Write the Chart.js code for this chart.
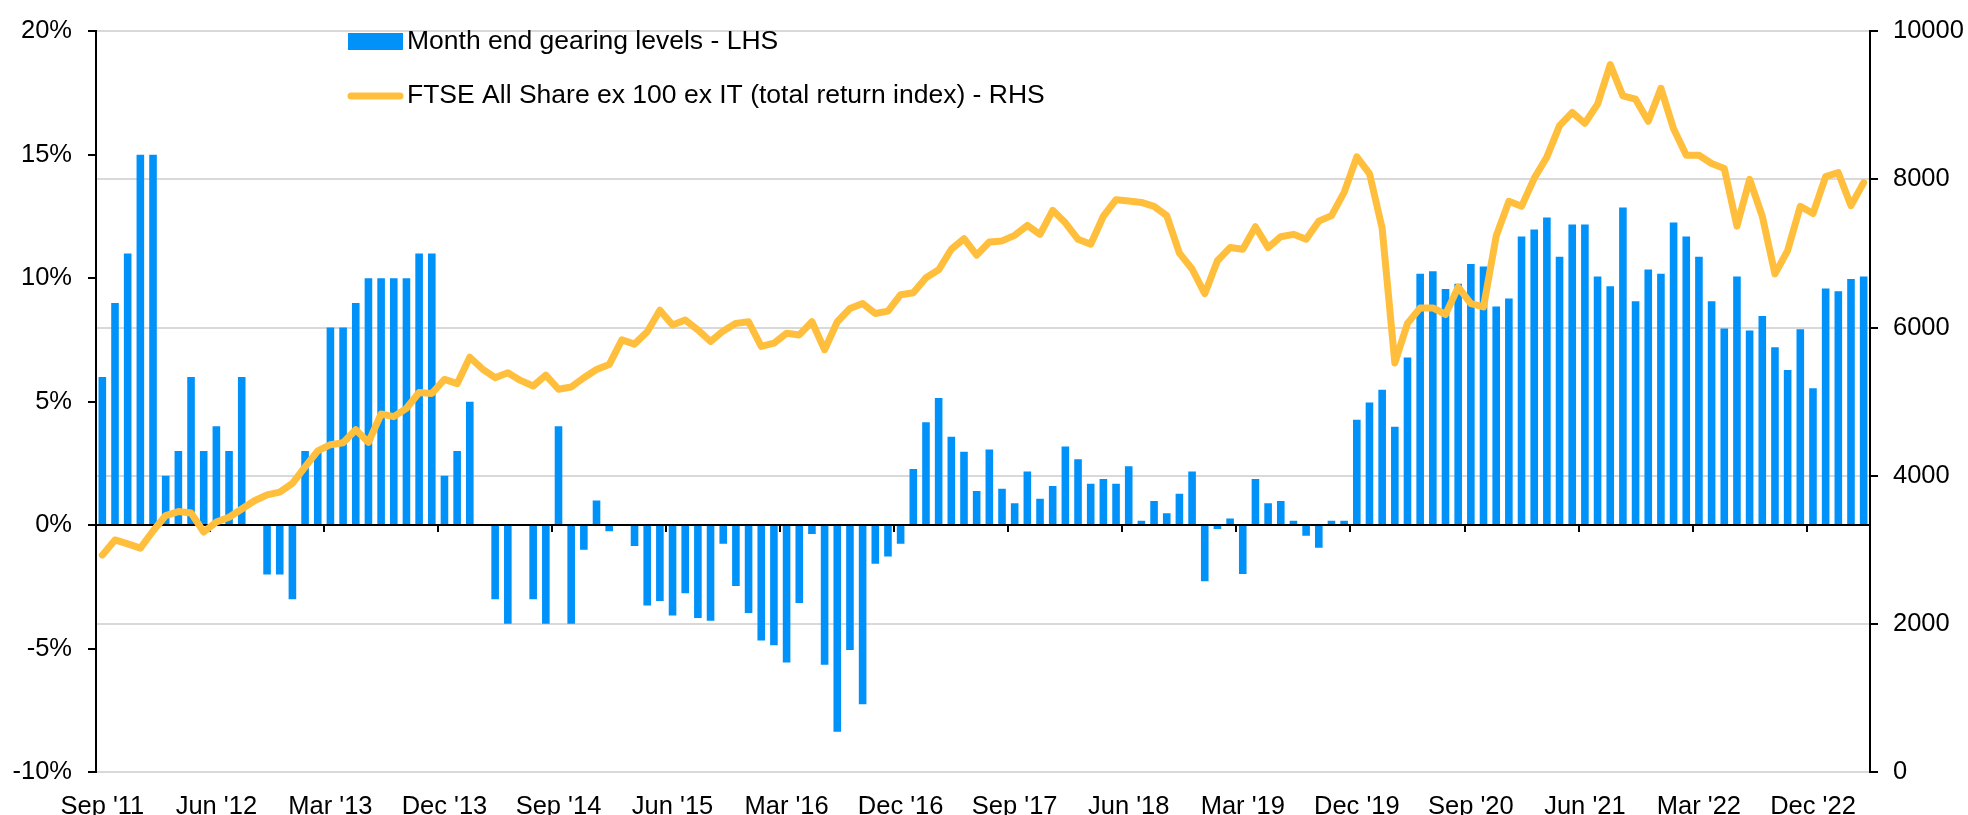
<!DOCTYPE html>
<html>
<head>
<meta charset="utf-8">
<title>Month end gearing levels</title>
<script src="https://cdn.jsdelivr.net/npm/chart.js@4.4.0/dist/chart.umd.min.js"></script>
<style>
  html, body { margin: 0; padding: 0; background: #fff; }
  #wrap { position: relative; width: 1968px; height: 815px; }
</style>
</head>
<body>
<div id="wrap"><canvas id="chart"></canvas></div>
<script>
// Month categories, Sep '11 to Apr '23
const monthNames = ['Jan', 'Feb', 'Mar', 'Apr', 'May', 'Jun', 'Jul', 'Aug', 'Sep', 'Oct', 'Nov', 'Dec'];
const months = [];
for (let i = 0; i < 140; i++) {
    const m = (8 + i) % 12;
    const y = 11 + Math.floor((8 + i) / 12);
    months.push(monthNames[m] + " '" + y);
}
const labelEvery = 9;

// Month end gearing (%), LHS
const gearing = [
    6, 9, 11, 15, 15, 2, 3, 6, 3, 4, 3, 6,
    0, -2, -2, -3, 3, 3, 8, 8, 9, 10, 10, 10,
    10, 11, 11, 2, 3, 5, 0, -3, -4, 0, -3, -4,
    4, -4, -1, 1, -0.25, 0, -0.85, -3.26, -3.07, -3.66, -2.76, -3.76,
    -3.87, -0.76, -2.47, -3.56, -4.67, -4.87, -5.57, -3.16, -0.36, -5.66, -8.37, -5.06,
    -7.26, -1.57, -1.27, -0.76, 2.27, 4.17, 5.15, 3.58, 2.97, 1.38, 3.06, 1.47,
    0.88, 2.17, 1.07, 1.58, 3.18, 2.67, 1.67, 1.87, 1.67, 2.38, 0.18, 0.98,
    0.48, 1.27, 2.17, -2.27, -0.16, 0.27, -1.98, 1.87, 0.88, 0.98, 0.18, -0.43,
    -0.92, 0.18, 0.18, 4.27, 4.97, 5.48, 3.98, 6.79, 10.18, 10.28, 9.56, 9.78,
    10.58, 10.47, 8.85, 9.18, 11.69, 11.97, 12.46, 10.87, 12.17, 12.17, 10.07, 9.67,
    12.86, 9.07, 10.35, 10.18, 12.26, 11.69, 10.87, 9.07, 7.96, 10.07, 7.88, 8.47,
    7.2, 6.28, 7.93, 5.54, 9.58, 9.47, 9.97, 10.07
];

// FTSE All Share ex 100 ex IT total return index, RHS
const ftse = [
    2928, 3133, 3080, 3022, 3254, 3462, 3516, 3498, 3240, 3374, 3440, 3551,
    3662, 3742, 3778, 3898, 4121, 4335, 4419, 4446, 4620, 4450, 4833, 4797,
    4910, 5123, 5110, 5300, 5243, 5600, 5440, 5323, 5390, 5287, 5211, 5358,
    5167, 5198, 5323, 5434, 5501, 5834, 5777, 5945, 6235, 6035, 6101, 5968,
    5812, 5955, 6057, 6079, 5745, 5790, 5924, 5901, 6079, 5701, 6079, 6257,
    6324, 6191, 6222, 6444, 6470, 6673, 6780, 7058, 7200, 6978, 7156, 7170,
    7245, 7379, 7259, 7583, 7414, 7192, 7125, 7503, 7726, 7708, 7690, 7637,
    7512, 7005, 6791, 6458, 6903, 7080, 7058, 7361, 7080, 7227, 7259, 7192,
    7437, 7512, 7825, 8305, 8080, 7340, 5523, 6057, 6266, 6266, 6177, 6546,
    6324, 6280, 7236, 7704, 7637, 8015, 8304, 8727, 8905, 8758, 9016, 9550,
    9127, 9083, 8785, 9230, 8683, 8327, 8327, 8215, 8149, 7370, 8002, 7503,
    6725, 7040, 7637, 7539, 8037, 8091, 7646, 7957
];

const barColor = '#0092f9';
const lineColor = '#ffbf3c';
const fontFamily = "'Liberation Sans', Arial, sans-serif";

Chart.defaults.font.family = fontFamily;
Chart.defaults.font.size = 25.5;
Chart.defaults.color = '#000';

// Zero line and x tick marks, drawn after the bars but under the index line
const zeroLine = {
    id: 'zeroLine',
    afterDatasetDraw(chart, args) {
        if (args.index !== 0) return;
        const { ctx, chartArea, scales } = chart;
        const y0 = scales.y.getPixelForValue(0);
        const step = scales.x.getPixelForValue(1) - scales.x.getPixelForValue(0);
        ctx.save();
        ctx.strokeStyle = '#000';
        ctx.lineWidth = 2;
        ctx.beginPath();
        ctx.moveTo(chartArea.left, y0);
        ctx.lineTo(chartArea.right, y0);
        for (let i = 0; i < months.length; i += labelEvery) {
            const px = Math.round(scales.x.getPixelForValue(i) - step / 2);
            ctx.moveTo(px, y0);
            ctx.lineTo(px, y0 + 7);
        }
        ctx.stroke();
        ctx.restore();
    }
};

// Legend in the top left of the plot
const legendBox = {
    id: 'legendBox',
    afterDraw(chart) {
        const ctx = chart.ctx;
        const sets = chart.data.datasets;
        ctx.save();
        ctx.font = '26.5px ' + fontFamily;
        ctx.textBaseline = 'middle';
        ctx.fillStyle = sets[0].backgroundColor;
        ctx.fillRect(348, 33, 55, 17);
        ctx.strokeStyle = sets[1].borderColor;
        ctx.lineWidth = 7;
        ctx.lineCap = 'round';
        ctx.beginPath();
        ctx.moveTo(351, 96);
        ctx.lineTo(400, 96);
        ctx.stroke();
        ctx.fillStyle = '#000';
        ctx.fillText(sets[0].label, 407, 42);
        ctx.fillText(sets[1].label, 407, 96);
        ctx.restore();
    }
};

const ctx = document.getElementById('chart').getContext('2d');
new Chart(ctx, {
    data: {
        labels: months,
        datasets: [{
            type: 'bar',
            label: 'Month end gearing levels - LHS',
            data: gearing,
            yAxisID: 'y',
            backgroundColor: barColor,
            barPercentage: 0.6,
            categoryPercentage: 1,
            order: 2
        }, {
            type: 'line',
            label: 'FTSE All Share ex 100 ex IT (total return index) - RHS',
            data: ftse,
            yAxisID: 'y2',
            borderColor: lineColor,
            borderWidth: 7,
            borderCapStyle: 'round',
            borderJoinStyle: 'round',
            pointRadius: 0,
            tension: 0,
            order: 1
        }]
    },
    options: {
        responsive: true,
        maintainAspectRatio: false,
        animation: false,
        layout: { padding: { top: 24 } },
        plugins: {
            legend: { display: false },
            tooltip: { enabled: false }
        },
        scales: {
            x: {
                grid: { display: false },
                border: { display: false },
                ticks: {
                    autoSkip: false,
                    maxRotation: 0,
                    padding: 12,
                    callback: (v, i) => i % labelEvery === 0 ? months[i] : ''
                },
                afterFit: s => { s.height = 43; }
            },
            y: {
                position: 'left',
                min: -10,
                max: 20,
                ticks: { stepSize: 5, padding: 16, callback: v => v + '%' },
                grid: {
                    color: 'rgba(0,0,0,0)',
                    tickColor: '#000',
                    tickLength: 8,
                    lineWidth: 2
                },
                border: { color: '#000', width: 2 },
                afterFit: s => { s.width = 96; }
            },
            y2: {
                position: 'right',
                min: 0,
                max: 10000,
                ticks: { stepSize: 2000, padding: 15, callback: v => String(v) },
                grid: {
                    color: '#d9d9d9',
                    tickColor: '#000',
                    tickLength: 8,
                    lineWidth: 2
                },
                border: { color: '#000', width: 2 },
                afterFit: s => { s.width = 98; }
            }
        }
    },
    plugins: [zeroLine, legendBox]
});
</script>
</body>
</html>
